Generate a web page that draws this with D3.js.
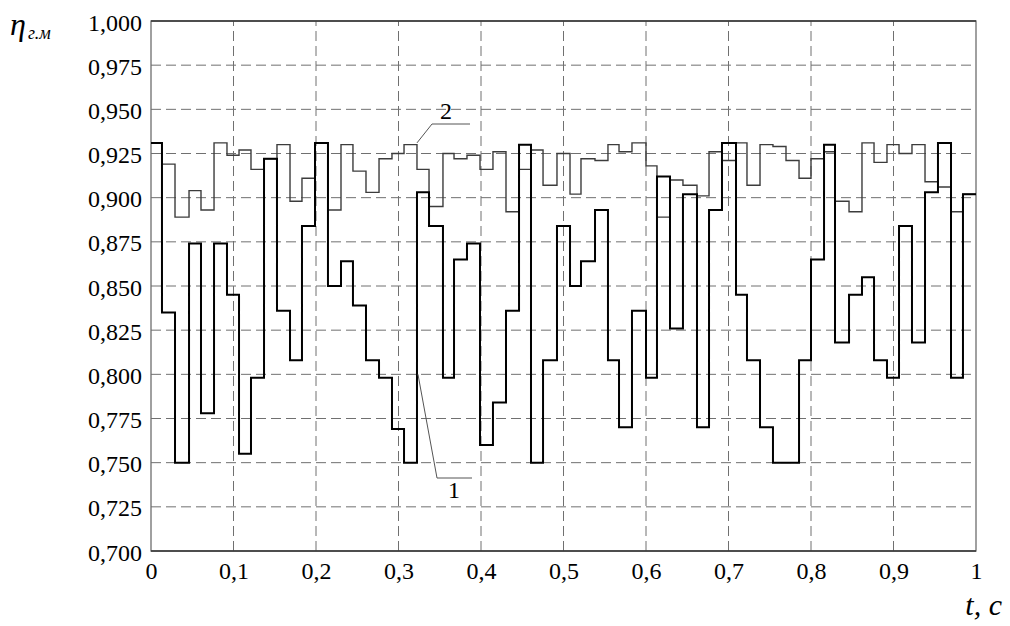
<!DOCTYPE html>
<html>
<head>
<meta charset="utf-8">
<script src="https://cdn.jsdelivr.net/npm/d3@7"></script>
<style>
  body { margin: 0; background: #fff; }
  svg text { font-family: "Liberation Serif", "Times New Roman", serif; fill: #000; }
</style>
</head>
<body>
<div id="chart"></div>
<script>
// step boundaries, t in seconds
const stepTimes = [
  0, 0.0133, 0.0291, 0.0461, 0.0606, 0.0764, 0.0921, 0.1067, 0.1212, 0.1370,
  0.1527, 0.1685, 0.1830, 0.1988, 0.2145, 0.2303, 0.2448, 0.2606, 0.2764, 0.2921,
  0.3067, 0.3224, 0.3370, 0.3539, 0.3673, 0.3830, 0.3988, 0.4145, 0.4303, 0.4461,
  0.4606, 0.4752, 0.4921, 0.5079, 0.5212, 0.5382, 0.5539, 0.5673, 0.5830, 0.6000,
  0.6133, 0.6291, 0.6448, 0.6618, 0.6764, 0.6921, 0.7091, 0.7224, 0.7382, 0.7539,
  0.7697, 0.7855, 0.8000, 0.8158, 0.8291, 0.8461, 0.8618, 0.8764, 0.8921, 0.9067,
  0.9224, 0.9382, 0.9539, 0.9697, 0.9842, 1
];

// curve 1
const eta1 = [
  0.931, 0.835, 0.750, 0.874, 0.778, 0.874, 0.845, 0.755, 0.798, 0.922,
  0.836, 0.808, 0.884, 0.931, 0.850, 0.864, 0.839, 0.808, 0.798, 0.769,
  0.750, 0.903, 0.884, 0.798, 0.865, 0.874, 0.760, 0.784, 0.836, 0.930,
  0.750, 0.808, 0.884, 0.850, 0.864, 0.893, 0.808, 0.770, 0.836, 0.798,
  0.912, 0.826, 0.902, 0.770, 0.893, 0.931, 0.845, 0.808, 0.770, 0.750,
  0.750, 0.808, 0.865, 0.930, 0.818, 0.845, 0.855, 0.808, 0.798, 0.884,
  0.818, 0.903, 0.931, 0.798, 0.902
];

// curve 2
const eta2 = [
  0.931, 0.919, 0.889, 0.904, 0.893, 0.931, 0.924, 0.927, 0.916, 0.922,
  0.930, 0.898, 0.911, 0.931, 0.893, 0.930, 0.915, 0.903, 0.922, 0.925,
  0.930, 0.916, 0.895, 0.925, 0.922, 0.924, 0.916, 0.926, 0.892, 0.916,
  0.927, 0.907, 0.925, 0.902, 0.922, 0.921, 0.930, 0.926, 0.931, 0.918,
  0.889, 0.910, 0.907, 0.901, 0.926, 0.921, 0.931, 0.907, 0.930, 0.929,
  0.921, 0.911, 0.922, 0.926, 0.898, 0.892, 0.931, 0.920, 0.930, 0.925,
  0.930, 0.909, 0.906, 0.892, 0.902
];

const yTicks = [0.700, 0.725, 0.750, 0.775, 0.800, 0.825, 0.850, 0.875, 0.900, 0.925, 0.950, 0.975, 1.000];
const xTicks = [0, 0.1, 0.2, 0.3, 0.4, 0.5, 0.6, 0.7, 0.8, 0.9, 1];

const W = 1010, H = 626;
const margin = { top: 21, right: 34, bottom: 75, left: 151 };

const svg = d3.select("#chart").append("svg")
  .attr("width", W)
  .attr("height", H);

const x = d3.scaleLinear().domain([0, 1]).range([margin.left, W - margin.right]);
const y = d3.scaleLinear().domain([0.7, 1.0]).range([H - margin.bottom, margin.top]);

const comma = s => s.replace(".", ",");

// dashed grid
svg.append("g")
  .selectAll("line")
  .data(yTicks.slice(1, -1))
  .enter().append("line")
  .attr("x1", x(0)).attr("x2", x(1))
  .attr("y1", d => y(d)).attr("y2", d => y(d))
  .attr("stroke", "#707070")
  .attr("stroke-width", 1)
  .attr("stroke-dasharray", "10,5");

svg.append("g")
  .selectAll("line")
  .data(xTicks.slice(1, -1))
  .enter().append("line")
  .attr("x1", d => x(d)).attr("x2", d => x(d))
  .attr("y1", y(0.7)).attr("y2", y(1))
  .attr("stroke", "#707070")
  .attr("stroke-width", 1)
  .attr("stroke-dasharray", "10,5");

// frame
svg.append("rect")
  .attr("x", x(0)).attr("y", y(1))
  .attr("width", x(1) - x(0)).attr("height", y(0.7) - y(1))
  .attr("fill", "none")
  .attr("stroke", "#6e6e6e")
  .attr("stroke-width", 1.3);

svg.append("line")
  .attr("x1", x(0)).attr("x2", x(1))
  .attr("y1", y(0.7)).attr("y2", y(0.7))
  .attr("stroke", "#333").attr("stroke-width", 1.3);
svg.append("line")
  .attr("x1", x(0)).attr("x2", x(1))
  .attr("y1", y(1)).attr("y2", y(1))
  .attr("stroke", "#333").attr("stroke-width", 1.3);

// axes (labels only)
const yAxis = svg.append("g")
  .attr("transform", `translate(${x(0)},0)`)
  .call(d3.axisLeft(y).tickValues(yTicks).tickSize(0).tickPadding(9)
    .tickFormat(d => comma(d3.format(".3f")(d))));
yAxis.select(".domain").remove();
yAxis.selectAll("text").attr("font-size", 24).attr("dy", "0.38em");

const xAxis = svg.append("g")
  .attr("transform", `translate(0,${y(0.7)})`)
  .call(d3.axisBottom(x).tickValues(xTicks).tickSize(0).tickPadding(11)
    .tickFormat(d => comma(d3.format("~g")(d))));
xAxis.select(".domain").remove();
xAxis.selectAll("text").attr("font-size", 24);

// step curves
const toPoints = vals => stepTimes.map((t, i) => [t, vals[Math.min(i, vals.length - 1)]]);
const line = d3.line()
  .x(d => x(d[0]))
  .y(d => y(d[1]))
  .curve(d3.curveStepAfter);

svg.append("path")
  .datum(toPoints(eta2))
  .attr("fill", "none")
  .attr("stroke", "#3c3c3c")
  .attr("stroke-width", 1.4)
  .attr("d", line);

svg.append("path")
  .datum(toPoints(eta1))
  .attr("fill", "none")
  .attr("stroke", "#000")
  .attr("stroke-width", 2)
  .attr("d", line);

// curve labels with leaders
svg.append("polyline")
  .attr("points", `${x(0.3224)},${y(0.931)} 432,124 470,124`)
  .attr("fill", "none").attr("stroke", "#555").attr("stroke-width", 1);
svg.append("text").attr("x", 440).attr("y", 119).attr("font-size", 24).text("2");

svg.append("polyline")
  .attr("points", `${x(0.3224) + 1},${y(0.80)} 437,478 472,478`)
  .attr("fill", "none").attr("stroke", "#555").attr("stroke-width", 1);
svg.append("text").attr("x", 448).attr("y", 498).attr("font-size", 24).text("1");

// axis titles
const yTitle = svg.append("text")
  .attr("x", 10).attr("y", 35)
  .attr("font-style", "italic")
  .attr("font-size", 32);
yTitle.append("tspan").text("η");
yTitle.append("tspan").attr("font-size", 18).attr("dy", 4).attr("dx", 2).text("г.м");

svg.append("text")
  .attr("x", 1002).attr("y", 615)
  .attr("text-anchor", "end")
  .attr("font-style", "italic")
  .attr("font-size", 30)
  .text("t, c");
</script>
</body>
</html>
